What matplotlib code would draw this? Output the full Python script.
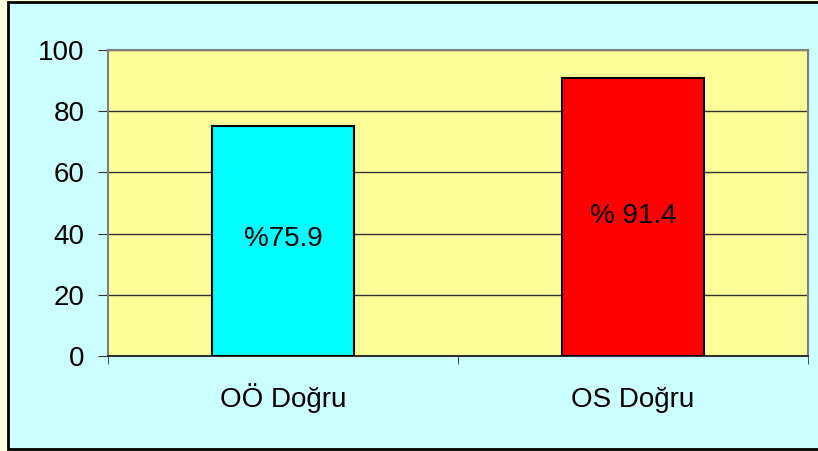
import matplotlib
matplotlib.use("Agg")
import matplotlib.pyplot as plt
from matplotlib.patches import Rectangle

# datos
categorias = ["OÖ Doğru", "OS Doğru"]
valores    = [75.1, 90.7]
etiquetas  = ["%75.9", "% 91.4"]
colores    = ["#00FFFF", "#FF0000"]

plt.rcParams["font.family"] = ["Liberation Sans", "DejaVu Sans"]

fig = plt.figure(figsize=(8.18, 4.51), dpi=100)
fig.patch.set_facecolor("#FFFFE0")

# marco exterior del gráfico
fig.patches.append(Rectangle((7.5 / 818, 2 / 451), 1.0, 447 / 451,
                             transform=fig.transFigure, facecolor="#CCFFFF",
                             edgecolor="black", linewidth=2, zorder=0))

ax = fig.add_axes([108 / 818, 1 - 356 / 451, 700 / 818, 306 / 451])
ax.set_zorder(2)
ax.set_facecolor("#FFFF99")

x = range(len(categorias))
ax.bar(x, valores, width=0.406, color=colores, edgecolor="black",
       linewidth=1.5, zorder=3)

for xi, v, t in zip(x, valores, etiquetas):
    ax.text(xi, v * 0.48, t, ha="center", va="baseline", fontsize=20,
            color="black", zorder=4)

ax.set_xlim(-0.5, 1.5)
ax.set_ylim(0, 100)
ax.set_yticks([0, 20, 40, 60, 80, 100])
ax.grid(axis="y", color="#333333", linewidth=1, zorder=1)
ax.set_axisbelow(True)

# etiquetas de categoría alineadas por la línea base
ax.set_xticks(list(x))
ax.set_xticklabels([])
ax.tick_params(axis="x", length=0)
for xi, c in zip(x, categorias):
    ax.text(xi, -51 / 306, c, ha="center", va="baseline", fontsize=20,
            transform=ax.get_xaxis_transform())
ax.set_xticks([-0.5, 0.5, 1.5], minor=True)
ax.tick_params(axis="x", which="minor", length=6, color="#333333", direction="out")
ax.tick_params(axis="y", length=7, color="#333333", labelsize=20, pad=10)

for lado in ["top", "right", "left"]:
    ax.spines[lado].set_color("#808080")
    ax.spines[lado].set_linewidth(1.5)
ax.spines["bottom"].set_color("#333333")
ax.spines["bottom"].set_linewidth(1.5)

plt.savefig("out.png", dpi=100, facecolor=fig.get_facecolor())
